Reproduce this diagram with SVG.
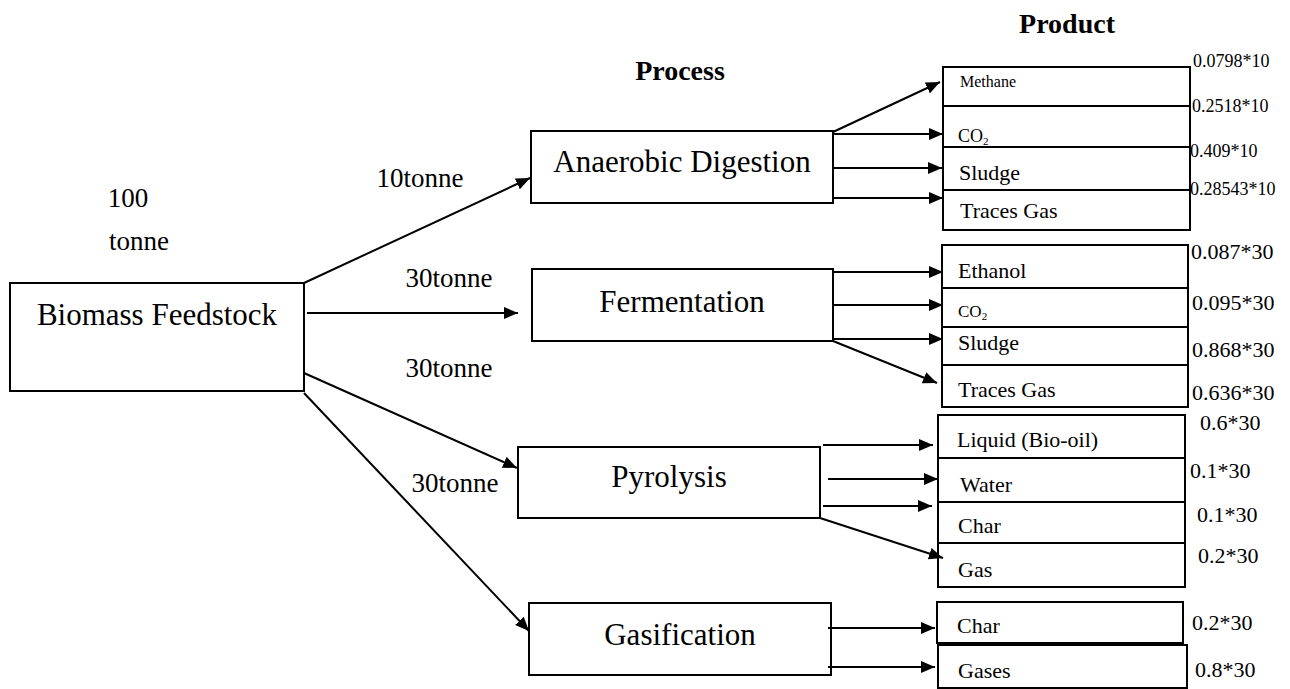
<svg xmlns="http://www.w3.org/2000/svg" width="1290" height="689" viewBox="0 0 1290 689">
  <style>
    text { font-family: "Liberation Serif", "Times New Roman", serif; fill: #000; }
    .box { fill: #fff; stroke: #000; stroke-width: 2; }
    .div { stroke: #000; stroke-width: 2; fill: none; }
    .proc { font-size: 31px; text-anchor: middle; }
    .title { font-size: 28px; font-weight: bold; text-anchor: middle; }
    .flow { font-size: 27px; text-anchor: middle; }
    .prod { font-size: 22px; }
    .val { font-size: 22px; }
    .val10 { font-size: 18px; }
    #connectors line { stroke: #000; stroke-width: 2; marker-end: url(#arrow); }
  </style>
  <defs>
    <marker id="arrow" markerUnits="userSpaceOnUse" markerWidth="15" markerHeight="12" refX="14" refY="6" orient="auto">
      <path d="M0,0 L14,6 L0,12 z" fill="#000"/>
    </marker>
  </defs>

  <rect width="1290" height="689" fill="#fff"/>

  <!-- column headings -->
  <text class="title" x="1067" y="33">Product</text>
  <text class="title" x="680" y="80">Process</text>

  <!-- feedstock -->
  <g id="biomass">
    <rect class="box" x="10" y="283" width="294" height="108"/>
    <text class="proc" x="157" y="325">Biomass Feedstock</text>
  </g>
  <g id="feed-amount">
    <text class="flow" x="128" y="207">100</text>
    <text class="flow" x="139" y="250">tonne</text>
  </g>

  <!-- process boxes -->
  <g id="anaerobic-digestion">
    <rect class="box" x="531" y="131" width="302" height="72"/>
    <text class="proc" x="682" y="172">Anaerobic Digestion</text>
  </g>
  <g id="fermentation">
    <rect class="box" x="532" y="269" width="301" height="72"/>
    <text class="proc" x="682" y="312">Fermentation</text>
  </g>
  <g id="pyrolysis">
    <rect class="box" x="518" y="447" width="302" height="71"/>
    <text class="proc" x="669" y="487">Pyrolysis</text>
  </g>
  <g id="gasification">
    <rect class="box" x="529" y="603" width="302" height="72"/>
    <text class="proc" x="680" y="645">Gasification</text>
  </g>

  <!-- flow amounts -->
  <g id="flow-labels">
    <text class="flow" x="420" y="187">10tonne</text>
    <text class="flow" x="449" y="287">30tonne</text>
    <text class="flow" x="449" y="377">30tonne</text>
    <text class="flow" x="455" y="492">30tonne</text>
  </g>

  <!-- anaerobic digestion products -->
  <g id="ad-products">
    <rect class="box" x="943" y="67" width="247" height="163"/>
    <line class="div" x1="943" y1="106" x2="1190" y2="106"/>
    <line class="div" x1="943" y1="147" x2="1190" y2="147"/>
    <line class="div" x1="943" y1="190" x2="1190" y2="190"/>
    <text x="960" y="87" font-size="16">Methane</text>
    <text x="958" y="142" font-size="18">CO<tspan font-size="11" dy="3">2</tspan></text>
    <text class="prod" x="959" y="180">Sludge</text>
    <text class="prod" x="960" y="218">Traces Gas</text>
    <text class="val10" x="1193" y="67">0.0798*10</text>
    <text class="val10" x="1192" y="112">0.2518*10</text>
    <text class="val10" x="1190" y="157">0.409*10</text>
    <text class="val10" x="1190" y="195">0.28543*10</text>
  </g>

  <!-- fermentation products -->
  <g id="fermentation-products">
    <rect class="box" x="942" y="245" width="246" height="162"/>
    <line class="div" x1="942" y1="288" x2="1188" y2="288"/>
    <line class="div" x1="942" y1="327" x2="1188" y2="327"/>
    <line class="div" x1="942" y1="365" x2="1188" y2="365"/>
    <text class="prod" x="958" y="278">Ethanol</text>
    <text x="958" y="317" font-size="17">CO<tspan font-size="11" dy="3">2</tspan></text>
    <text class="prod" x="958" y="350">Sludge</text>
    <text class="prod" x="958" y="397">Traces Gas</text>
    <text class="val" x="1191" y="259">0.087*30</text>
    <text class="val" x="1192" y="310">0.095*30</text>
    <text class="val" x="1192" y="357">0.868*30</text>
    <text class="val" x="1192" y="400">0.636*30</text>
  </g>

  <!-- pyrolysis products -->
  <g id="pyrolysis-products">
    <rect class="box" x="938" y="415" width="247" height="172"/>
    <line class="div" x1="938" y1="458" x2="1185" y2="458"/>
    <line class="div" x1="938" y1="502" x2="1185" y2="502"/>
    <line class="div" x1="938" y1="543" x2="1185" y2="543"/>
    <text class="prod" x="957" y="447">Liquid (Bio-oil)</text>
    <text class="prod" x="960" y="492">Water</text>
    <text class="prod" x="958" y="533">Char</text>
    <text class="prod" x="958" y="577">Gas</text>
    <text class="val" x="1200" y="430">0.6*30</text>
    <text class="val" x="1190" y="478">0.1*30</text>
    <text class="val" x="1197" y="522">0.1*30</text>
    <text class="val" x="1198" y="563">0.2*30</text>
  </g>

  <!-- gasification products -->
  <g id="gasification-products">
    <rect class="box" x="937" y="602" width="246" height="41"/>
    <rect class="box" x="938" y="645" width="249" height="43"/>
    <text class="prod" x="957" y="633">Char</text>
    <text class="prod" x="958" y="678">Gases</text>
    <text class="val" x="1192" y="630">0.2*30</text>
    <text class="val" x="1195" y="677">0.8*30</text>
  </g>

  <!-- arrows -->
  <g id="connectors">
    <line x1="304" y1="283" x2="530" y2="178"/>
    <line x1="307" y1="313" x2="518" y2="313"/>
    <line x1="304" y1="373" x2="517" y2="468"/>
    <line x1="304" y1="393" x2="529" y2="631"/>

    <line x1="833" y1="132" x2="940" y2="82"/>
    <line x1="833" y1="134" x2="943" y2="134"/>
    <line x1="833" y1="168" x2="942" y2="168"/>
    <line x1="833" y1="198" x2="943" y2="198"/>

    <line x1="833" y1="272" x2="943" y2="272"/>
    <line x1="833" y1="305" x2="943" y2="305"/>
    <line x1="833" y1="339" x2="943" y2="339"/>
    <line x1="833" y1="341" x2="937" y2="383"/>

    <line x1="823" y1="445" x2="933" y2="445"/>
    <line x1="828" y1="479" x2="938" y2="479"/>
    <line x1="823" y1="506" x2="932" y2="506"/>
    <line x1="820" y1="518" x2="943" y2="558"/>

    <line x1="828" y1="628" x2="935" y2="628"/>
    <line x1="828" y1="667" x2="935" y2="667"/>
  </g>
</svg>
